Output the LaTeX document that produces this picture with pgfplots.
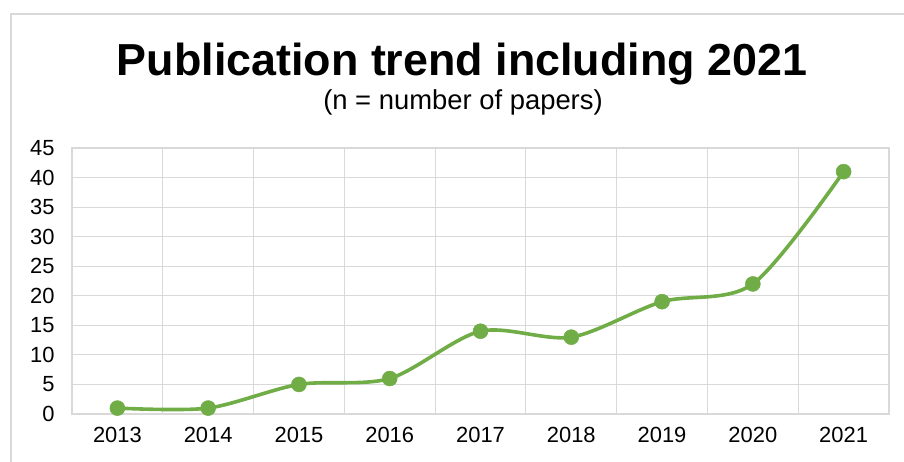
\documentclass[border=0pt]{standalone}
\usepackage{pgfplots}
\pgfplotsset{compat=1.18}
\usepackage{fontspec}
\setmainfont{Liberation Sans}
\definecolor{lineg}{HTML}{70AD47}
\definecolor{gridc}{HTML}{D9D9D9}
\begin{document}
\begin{tikzpicture}[x=1bp,y=1bp]
\useasboundingbox (0,0) rectangle (904,462);
\draw[gridc, line width=1.5bp] (11,0) -- (11,448) -- (904,448);
\node[anchor=base, font=\bfseries\fontsize{45}{52}\selectfont] at (462,386) {Publication trend including 2021};
\node[anchor=base, font=\fontsize{27.5}{32}\selectfont] at (463,352) {(n = number of papers)};
\begin{axis}[
  at={(72bp,48bp)}, anchor=south west,
  scale only axis, width=817bp, height=266bp,
  xmin=-0.5, xmax=8.5, ymin=0, ymax=45,
  xtick={0,...,8},
  xticklabels={2013,2014,2015,2016,2017,2018,2019,2020,2021},
  minor xtick={-0.5,0.5,...,8.5},
  ytick={0,5,...,45},
  grid=none,
  xminorgrids=true, ymajorgrids=true,
  major tick length=0pt, minor tick length=0pt,
  grid style={gridc, line width=1.2bp},
  minor grid style={gridc, line width=1.2bp},
  axis line style={gridc, line width=1.2bp},
  tick label style={font=\fontsize{22}{24}\selectfont},
  xticklabel style={yshift=-10bp},
  yticklabel style={xshift=-14bp},
  /pgf/number format/assume math mode=true,
  clip=false,
]
\addplot[lineg, line width=3.6bp, smooth, tension=0.5, mark=*, mark size=7.5bp, mark options={fill=lineg, draw=lineg, line width=0.5bp}]
coordinates {(0,1) (1,1) (2,5) (3,6) (4,14) (5,13) (6,19) (7,22) (8,41)};
\end{axis}
\end{tikzpicture}
\end{document}
